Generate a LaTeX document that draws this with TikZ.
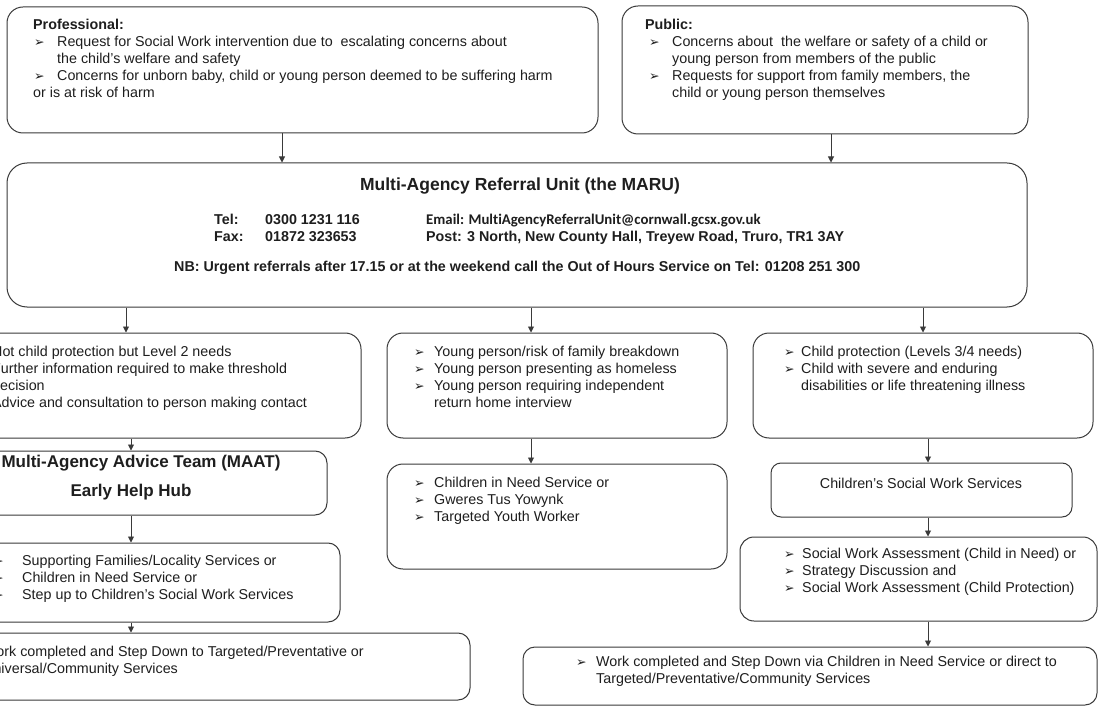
\documentclass[tikz,border=0pt]{standalone}
\usepackage{fontspec}
\setmainfont{Liberation Sans}
\newfontfamily\dvfont{DejaVu Sans}
\newfontfamily\calfont[Ligatures=NoCommon]{Carlito}
\usetikzlibrary{arrows.meta}
\definecolor{linec}{HTML}{3A3A3A}
\definecolor{txtc}{HTML}{1E1E1E}
\newcommand\bulg{{\dvfont\fontsize{12.5}{12}\selectfont ➢}}
\gdef\bwd{22pt}\gdef\bwo{0pt}
\newcommand\myb{\makebox[\bwd][l]{\hspace*{\bwo}\bulg}}
\newcommand\myind{\hspace*{\bwd}}
\begin{document}
\begin{tikzpicture}[x=1pt,y=-1pt,
  box/.style={draw=linec, line width=1pt, rounded corners=#1, inner sep=0pt},
  box/.default=14pt,
  txt/.style={anchor=north west, inner sep=0pt, align=left, text=txtc, font=\fontsize{14.3}{17}\selectfont},
  ctxt/.style={inner sep=0pt, text=txtc},
  arr/.style={draw=linec, line width=0.9pt, -{Triangle[length=6pt,width=6pt]}},
]
\useasboundingbox (0,0) rectangle (1099,708);
\fill[white] (0,0) rectangle (1099,708);
\clip (0,0) rectangle (1099,708);

% boxes
\node[box=16pt, minimum width=591pt, minimum height=126pt] (prof) at (302.5,70) {};
\node[box=16pt, minimum width=406pt, minimum height=128pt] (pub) at (825,70) {};
\node[box=20pt, minimum width=1020pt, minimum height=144pt] (maru) at (517,235) {};
\node[box=16pt, minimum width=421pt, minimum height=105pt] (l1) at (150.5,385.5) {};
\node[box=12pt, minimum width=387pt, minimum height=64pt] (l2) at (133.5,483) {};
\node[box=12pt, minimum width=400pt, minimum height=79pt] (l3) at (140,582.5) {};
\node[box=12pt, minimum width=530pt, minimum height=67pt] (l4) at (205,666.5) {};
\node[box=16pt, minimum width=340pt, minimum height=105pt] (m1) at (557,385.5) {};
\node[box=16pt, minimum width=340pt, minimum height=105pt] (m2) at (557,516.5) {};
\node[box=16pt, minimum width=340pt, minimum height=105pt] (r1) at (923,385.5) {};
\node[box=10pt, minimum width=301pt, minimum height=54pt] (r2) at (921.5,490) {};
\node[box=14pt, minimum width=357pt, minimum height=84pt] (r3) at (918.5,579) {};
\node[box=12pt, minimum width=574pt, minimum height=58pt] (r4) at (810,676) {};

% arrow columns
\coordinate (xa) at (282,0);
\coordinate (xb) at (831,0);
\coordinate (xl) at (126,0);
\coordinate (xl2) at (131,0);
\coordinate (xm) at (531,0);
\coordinate (xr) at (923,0);
\coordinate (xr2) at (928,0);
\draw[arr] (prof.south -| xa) -- (maru.north -| xa);
\draw[arr] (pub.south -| xb) -- (maru.north -| xb);
\draw[arr] (maru.south -| xl) -- (l1.north -| xl);
\draw[arr] (maru.south -| xm) -- (m1.north -| xm);
\draw[arr] (maru.south -| xr) -- (r1.north -| xr);
\draw[arr] (l1.south -| xl2) -- (l2.north -| xl2);
\draw[arr] (l2.south -| xl2) -- (l3.north -| xl2);
\draw[arr] (l3.south -| xl2) -- (l4.north -| xl2);
\draw[arr] (m1.south -| xm) -- (m2.north -| xm);
\draw[arr] (r1.south -| xr2) -- (r2.north -| xr2);
\draw[arr] (r2.south -| xr2) -- (r3.north -| xr2);
\draw[arr] (r3.south -| xr2) -- (r4.north -| xr2);

% texts
\gdef\bwd{24pt}\gdef\bwo{1pt}
\node[txt] (profT) at (33,19) {\textbf{Professional:}\\
\myb Request for Social Work intervention due to\ \ escalating concerns about\\
\myind the child’s welfare and safety\\
\myb Concerns for unborn baby, child or young person deemed to be suffering harm\\
or is at risk of harm};

\gdef\bwd{27pt}\gdef\bwo{4pt}
\node[txt] (pubT) at (645,19) {\textbf{Public:}\\
\myb Concerns about\ \ the welfare or safety of a child or\\
\myind young person from members of the public\\
\myb Requests for support from family members, the\\
\myind child or young person themselves};

\node[ctxt, font=\bfseries\fontsize{17.5}{20}\selectfont] (maruT) at (520,186) {Multi-Agency Referral Unit (the MARU)};
\node[txt, font=\bfseries\fontsize{14.3}{17}\selectfont] (telL) at (214,214) {Tel:\\Fax:};
\node[txt, font=\bfseries\fontsize{14.3}{17}\selectfont] (telN) at (265,214) {0300 1231 116\\01872 323653};
\node[txt, font=\bfseries\fontsize{14.3}{17}\selectfont] (mail) at (426,214) {{\calfont\fontsize{14.8}{17}\selectfont Email: MultiAgencyReferralUnit@cornwall.gcsx.gov.uk}\\Post: 3 North, New County Hall, Treyew Road, Truro, TR1 3AY};
\node[ctxt, anchor=base west, font=\bfseries\fontsize{14.3}{17}\selectfont] (nb) at (174,272) {NB: Urgent referrals after 17.15 or at the weekend call the Out of Hours Service on Tel: 01208 251 300};

\node[txt] (l1T) at (-8,346) {Not child protection but Level 2 needs\\
Further information required to make threshold\\
decision\\
Advice and consultation to person making contact};

\node[ctxt, font=\bfseries\fontsize{17}{20}\selectfont] (maat1) at (141,463) {Multi-Agency Advice Team (MAAT)};
\node[ctxt, font=\bfseries\fontsize{17}{20}\selectfont] (maat2) at (131,492) {Early Help Hub};

\gdef\bwd{29pt}\gdef\bwo{0pt}
\node[txt] (l3T) at (-7,555) {\myb Supporting Families/Locality Services or\\
\myb Children in Need Service or\\
\myb Step up to Children’s Social Work Services};

\node[txt] (l4T) at (-17,646) {Work completed and Step Down to Targeted/Preventative or\\
Universal/Community Services};

\gdef\bwd{20pt}\gdef\bwo{0pt}
\node[txt] (m1T) at (414,346) {\myb Young person/risk of family breakdown\\
\myb Young person presenting as homeless\\
\myb Young person requiring independent\\
\myind return home interview};
\node[txt] (m2T) at (414,477) {\myb Children in Need Service or\\
\myb Gweres Tus Yowynk\\
\myb Targeted Youth Worker};

\gdef\bwd{17pt}\gdef\bwo{0pt}
\node[txt] (r1T) at (784,346) {\myb Child protection (Levels 3/4 needs)\\
\myb Child with severe and enduring\\
\myind disabilities or life threatening illness};

\node[ctxt, font=\fontsize{14.3}{17}\selectfont] (r2T) at (921,483) {Children’s Social Work Services};

\gdef\bwd{18pt}\gdef\bwo{0pt}
\node[txt] (r3T) at (784,548) {\myb Social Work Assessment (Child in Need) or\\
\myb Strategy Discussion and\\
\myb Social Work Assessment (Child Protection)};

\gdef\bwd{20pt}\gdef\bwo{0pt}
\node[txt] (r4T) at (576,656) {\myb Work completed and Step Down via Children in Need Service or direct to\\
\myind Targeted/Preventative/Community Services};
\end{tikzpicture}
\end{document}
